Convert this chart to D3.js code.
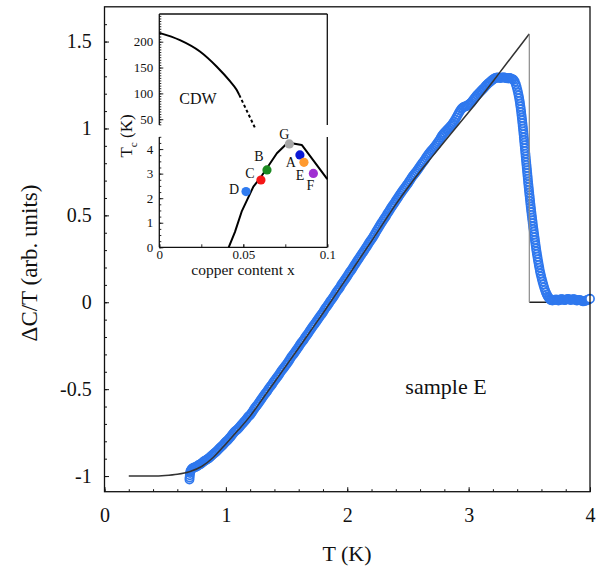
<!DOCTYPE html>
<html><head><meta charset="utf-8">
<script src="https://cdn.jsdelivr.net/npm/d3@7"></script>
<style>
html,body{margin:0;padding:0;background:#fff;}
svg{display:block;}
text{font-family:"Liberation Serif","Times New Roman",serif;fill:#111;}
</style></head><body>
<svg id="chart" width="598" height="568"></svg>
<script>
// ---------------- data ----------------
const xTickValues = [0, 1, 2, 3, 4];
const xTickLabels = ["0", "1", "2", "3", "4"];
const yTickValues = [-1, -0.5, 0, 0.5, 1, 1.5];
const yTickLabels = ["-1", "-0.5", "0", "0.5", "1", "1.5"];

// model (black line) ΔC/T vs T
const modelT = [0.2,0.3,0.4,0.5,0.6,0.7,0.8,0.9,1.0,1.1,1.2,1.3,1.4,1.5,1.6,1.7,1.8,1.9,2.0,2.1,2.2,2.3,2.4,2.5,2.6,2.7,2.8,2.9,3.0,3.1,3.2,3.3,3.4,3.5];
const modelV = [-1.000,-1.000,-1.000,-0.997,-0.990,-0.975,-0.945,-0.890,-0.815,-0.737,-0.655,-0.558,-0.460,-0.362,-0.263,-0.163,-0.063,0.040,0.143,0.248,0.352,0.458,0.563,0.660,0.752,0.838,0.924,1.008,1.093,1.180,1.270,1.362,1.453,1.544];
const modelTc = 3.5;
const modelTail = [3.5, 4.0];

// measured data (blue open circles), sample E
const dataT = [
0.700,0.701,0.703,0.705,0.708,0.712,
0.72,0.73,0.74,0.75,0.76,0.77,0.78,0.79,0.80,0.81,
0.82,0.83,0.84,0.85,0.86,0.87,0.88,0.89,0.90,0.91,
0.92,0.93,0.94,0.95,0.96,0.97,0.98,0.99,1.00,1.01,
1.02,1.03,1.04,1.05,1.06,1.07,1.08,1.09,1.10,1.11,
1.12,1.13,1.14,1.15,1.16,1.17,1.18,1.19,1.20,1.21,
1.22,1.23,1.24,1.25,1.26,1.27,1.28,1.29,1.30,1.31,
1.32,1.33,1.34,1.35,1.36,1.37,1.38,1.39,1.40,1.41,
1.42,1.43,1.44,1.45,1.46,1.47,1.48,1.49,1.50,1.51,
1.52,1.53,1.54,1.55,1.56,1.57,1.58,1.59,1.60,1.61,
1.62,1.63,1.64,1.65,1.66,1.67,1.68,1.69,1.70,1.71,
1.72,1.73,1.74,1.75,1.76,1.77,1.78,1.79,1.80,1.81,
1.82,1.83,1.84,1.85,1.86,1.87,1.88,1.89,1.90,1.91,
1.92,1.93,1.94,1.95,1.96,1.97,1.98,1.99,2.00,2.01,
2.02,2.03,2.04,2.05,2.06,2.07,2.08,2.09,2.10,2.11,
2.12,2.13,2.14,2.15,2.16,2.17,2.18,2.19,2.20,2.21,
2.22,2.23,2.24,2.25,2.26,2.27,2.28,2.29,2.30,2.31,
2.32,2.33,2.34,2.35,2.36,2.37,2.38,2.39,2.40,2.41,
2.42,2.43,2.44,2.45,2.46,2.47,2.48,2.49,2.50,2.51,
2.52,2.53,2.54,2.55,2.56,2.57,2.58,2.59,2.60,2.61,
2.62,2.63,2.64,2.65,2.66,2.67,2.68,2.69,2.70,2.71,
2.72,2.73,2.74,2.75,2.76,2.77,2.78,2.79,2.80,2.81,
2.82,2.83,2.84,2.85,2.86,2.87,2.88,2.89,2.90,2.91,
2.92,2.93,2.94,2.95,2.96,2.97,2.98,2.99,3.00,3.01,
3.02,3.03,3.04,3.05,3.06,3.07,3.08,3.09,3.10,3.11,
3.12,3.13,3.14,3.15,3.16,3.17,3.18,3.19,3.20,3.21,
3.22,3.23,3.24,3.25,3.26,3.27,3.28,3.29,3.30,3.31,
3.32,3.33,3.34,3.35,3.36,3.37,
3.3800,3.3889,3.3958,3.4020,3.4073,3.4121,3.4163,3.4204,3.4236,3.4268,
3.4300,3.4328,3.4355,3.4383,3.4409,3.4433,3.4457,3.4481,3.4504,3.4526,
3.4548,3.4570,3.4592,3.4614,3.4635,3.4657,3.4678,3.4700,3.4722,3.4744,
3.4766,3.4788,3.4810,3.4832,3.4854,3.4876,3.4899,3.4922,3.4946,3.4969,
3.4993,3.5017,3.5042,3.5066,3.5091,3.5117,3.5143,3.5170,3.5197,3.5225,
3.5253,3.5281,3.5309,3.5340,3.5370,3.5400,3.5431,3.5462,3.5492,3.5525,
3.5558,3.5592,3.5628,3.5665,3.5703,3.5743,3.5783,3.5826,3.5871,3.5920,
3.5973,3.6030,3.6089,3.6152,3.6218,3.6291,3.6367,3.6443,3.6514,3.6600,
3.6675,3.6750,
3.68,3.69,3.70,3.71,3.72,3.73,3.74,3.75,3.76,3.77,3.78,3.79,3.80,3.81,3.82,
3.83,3.84,3.85,3.86,3.87,3.88,3.89,3.90,3.91,3.92,3.93,3.94,3.95,3.96,3.97,
3.98,3.99,4.00];
const dataV = [
-1.020,-1.008,-0.995,-0.983,-0.972,-0.966,
-0.958,-0.953,-0.950,-0.948,-0.945,-0.939,-0.935,-0.932,-0.927,-0.920,
-0.915,-0.911,-0.906,-0.902,-0.897,-0.890,-0.884,-0.878,-0.872,-0.866,
-0.860,-0.853,-0.846,-0.839,-0.832,-0.825,-0.818,-0.810,-0.803,-0.797,
-0.789,-0.781,-0.774,-0.764,-0.755,-0.747,-0.740,-0.735,-0.728,-0.720,
-0.712,-0.704,-0.696,-0.688,-0.680,-0.671,-0.662,-0.655,-0.648,-0.638,
-0.628,-0.617,-0.607,-0.599,-0.590,-0.580,-0.570,-0.559,-0.549,-0.540,
-0.530,-0.521,-0.512,-0.501,-0.490,-0.482,-0.473,-0.462,-0.452,-0.443,
-0.433,-0.424,-0.414,-0.403,-0.392,-0.384,-0.376,-0.366,-0.356,-0.346,
-0.336,-0.325,-0.314,-0.305,-0.296,-0.286,-0.276,-0.266,-0.256,-0.245,
-0.235,-0.226,-0.217,-0.206,-0.196,-0.187,-0.177,-0.166,-0.156,-0.145,
-0.135,-0.126,-0.116,-0.107,-0.097,-0.086,-0.076,-0.067,-0.057,-0.046,
-0.035,-0.026,-0.016,-0.005,0.006,0.015,0.025,0.035,0.046,0.057,
0.068,0.077,0.087,0.099,0.110,0.119,0.129,0.139,0.150,0.161,
0.172,0.182,0.192,0.203,0.214,0.225,0.236,0.246,0.256,0.267,
0.278,0.288,0.298,0.309,0.320,0.331,0.342,0.352,0.362,0.373,
0.384,0.396,0.408,0.420,0.432,0.443,0.454,0.465,0.476,0.486,
0.497,0.509,0.520,0.531,0.542,0.552,0.562,0.573,0.584,0.594,
0.604,0.615,0.626,0.636,0.646,0.655,0.664,0.674,0.684,0.695,
0.705,0.716,0.726,0.735,0.744,0.753,0.762,0.772,0.782,0.792,
0.802,0.812,0.822,0.833,0.843,0.853,0.862,0.870,0.878,0.886,
0.895,0.904,0.914,0.924,0.934,0.947,0.958,0.967,0.975,0.983,
0.990,0.997,1.004,1.012,1.020,1.030,1.040,1.052,1.064,1.077,
1.090,1.102,1.112,1.119,1.124,1.126,1.128,1.132,1.136,1.142,
1.148,1.157,1.166,1.175,1.184,1.192,1.200,1.207,1.214,1.221,
1.228,1.236,1.244,1.251,1.258,1.264,1.270,1.276,1.282,1.286,
1.290,1.292,1.294,1.292,1.290,1.292,1.294,1.293,1.292,1.290,
1.288,1.289,1.290,1.287,1.284,1.280,
1.270,1.254,1.238,1.222,1.206,1.190,1.174,1.158,1.142,1.126,
1.110,1.094,1.078,1.062,1.046,1.030,1.014,0.998,0.982,0.966,
0.950,0.934,0.918,0.902,0.886,0.870,0.854,0.838,0.822,0.806,
0.790,0.774,0.758,0.742,0.726,0.710,0.694,0.678,0.662,0.646,
0.630,0.614,0.598,0.582,0.566,0.550,0.534,0.518,0.502,0.486,
0.470,0.454,0.438,0.422,0.406,0.390,0.374,0.358,0.342,0.326,
0.310,0.294,0.278,0.262,0.246,0.230,0.214,0.198,0.182,0.166,
0.150,0.134,0.118,0.102,0.086,0.070,0.056,0.044,0.034,0.026,
0.020,0.015,
0.012,0.010,0.012,0.014,0.016,0.014,0.010,0.012,0.017,0.018,0.015,0.012,0.014,0.018,0.019,
0.016,0.013,0.014,0.018,0.017,0.013,0.010,0.011,0.014,0.012,0.008,0.006,0.006,0.008,0.010,
0.013,0.016,0.020];

// inset: phase diagram
const insetXTicks = [0, 0.05, 0.1];
const insetXLabels = ["0", "0.05", "0.1"];
const insetUpTicks = [50, 100, 150, 200];
const insetUpLabels = ["50", "100", "150", "200"];
const insetLowTicks = [0, 1, 2, 3, 4];
const insetLowLabels = ["0", "1", "2", "3", "4"];
const cdwX = [0, 0.0123, 0.0242, 0.0341, 0.0422, 0.046, 0.0476];
const cdwY = [217, 203, 181, 152, 123, 107, 97];
const cdwDashX = [0.0476, 0.0570];
const cdwDashY = [97, 33];
const scX = [0.0413, 0.045, 0.049, 0.056, 0.0605, 0.064, 0.070, 0.0758, 0.078, 0.0848, 0.1];
const scY = [0, 0.62, 1.45, 2.47, 2.86, 3.22, 3.83, 4.22, 4.25, 4.17, 2.78];
const sampleNames = ["A", "B", "C", "D", "E", "F", "G"];
const sampleX = [0.0837, 0.0641, 0.0605, 0.0516, 0.0861, 0.0917, 0.0774];
const sampleTc = [3.76, 3.15, 2.74, 2.27, 3.46, 3.01, 4.21];
const sampleColors = ["#0a18d6", "#1c8a22", "#f51616", "#2f7bf0", "#ff9a2e", "#a02fd2", "#a8a8a8"];

// ---------------- chart ----------------
const svg = d3.select("#chart");
const blue = "#2f78ee";

const x = d3.scaleLinear().domain([0, 4]).range([104.5, 590]);
const y = d3.scaleLinear().domain([-1.09, 1.70]).range([491.7, 6.8]);

const data = dataT.map((t, i) => ({t, v: dataV[i]}));
const model = modelT.map((t, i) => ({t, v: modelV[i]}));

// zero line after Tc
svg.append("line")
  .attr("x1", x(modelTail[0])).attr("x2", x(modelTail[1]))
  .attr("y1", y(0)).attr("y2", y(0))
  .attr("stroke", "#222").attr("stroke-width", 1.3);

// data circles
svg.append("g").selectAll("circle").data(data).join("circle")
  .attr("cx", d => x(d.t)).attr("cy", d => y(d.v)).attr("r", 4.1)
  .attr("fill", (d, i) => i === data.length - 1 ? "#fff" : "none")
  .attr("stroke", blue).attr("stroke-width", 1.7);

// model curve
svg.append("path").datum(model)
  .attr("d", d3.line().x(d => x(d.t)).y(d => y(d.v)).curve(d3.curveMonotoneX))
  .attr("fill", "none").attr("stroke", "#333").attr("stroke-width", 1.5);
svg.append("line")
  .attr("x1", x(modelTc)).attr("x2", x(modelTc))
  .attr("y1", y(modelV[modelV.length - 1])).attr("y2", y(0))
  .attr("stroke", "#8a8a8a").attr("stroke-width", 1.2);

// axes
const fsTick = 20;
const gx = svg.append("g").attr("transform", `translate(0,${y.range()[0]})`);
gx.call(d3.axisBottom(x).tickValues(d3.range(0, 4.001, 0.2)).tickSizeInner(-2.5).tickSizeOuter(0).tickFormat(""));
gx.call(g => g.select(".domain").remove());
const gx2 = svg.append("g").attr("transform", `translate(0,${y.range()[0]})`);
gx2.call(d3.axisBottom(x).tickValues(xTickValues).tickSizeInner(-4.5).tickSizeOuter(0)
  .tickPadding(30.3 - 0.71 * fsTick).tickFormat((d, i) => xTickLabels[i]));
gx2.call(g => g.select(".domain").remove());
gx2.selectAll("text").attr("font-size", fsTick).attr("font-family", null);

const gy = svg.append("g").attr("transform", `translate(${x.range()[0]},0)`);
gy.call(d3.axisLeft(y).tickValues(d3.range(-1.0, 1.65, 0.1)).tickSizeInner(-2.5).tickSizeOuter(0).tickFormat(""));
gy.call(g => g.select(".domain").remove());
const gy2 = svg.append("g").attr("transform", `translate(${x.range()[0]},0)`);
gy2.call(d3.axisLeft(y).tickValues(yTickValues).tickSizeInner(-4.5).tickSizeOuter(0)
  .tickPadding(12.8).tickFormat((d, i) => yTickLabels[i]));
gy2.call(g => g.select(".domain").remove());
gy2.selectAll("text").attr("font-size", fsTick).attr("font-family", null);
svg.selectAll(".tick line").attr("stroke", "#111").attr("stroke-width", 1);

// frame
svg.append("rect")
  .attr("x", x.range()[0]).attr("y", y.range()[1])
  .attr("width", x.range()[1] - x.range()[0]).attr("height", y.range()[0] - y.range()[1])
  .attr("fill", "none").attr("stroke", "#111").attr("stroke-width", 1.3);

// titles
svg.append("text").attr("x", 347).attr("y", 561).attr("text-anchor", "middle")
  .attr("font-size", 22).text("T (K)");
svg.append("text").attr("transform", "translate(37,263) rotate(-90)").attr("text-anchor", "middle")
  .attr("font-size", 23).text("ΔC/T (arb. units)");
svg.append("text").attr("x", 446).attr("y", 394).attr("text-anchor", "middle")
  .attr("font-size", 22).text("sample E");

// ---------------- inset ----------------
const ix = d3.scaleLinear().domain([0, 0.1]).range([159.3, 327.3]);
const iyLow = d3.scaleLinear().domain([0, 4.5]).range([247.3, 136.8]);
const iyUp = d3.scaleLinear().domain([33, 253.6]).range([128, 14]);
const inset = svg.append("g");
const upTop = 14, upBot = 125, lowTop = 137, lowBot = 247.3;
const L = ix.range()[0], R = ix.range()[1];

// axis lines
[[L, upTop, L, upBot], [L, lowTop, L, lowBot], [R, upTop, R, upBot], [R, lowTop, R, lowBot],
 [L, upTop, R, upTop], [L, lowBot, R, lowBot]].forEach(s => {
  inset.append("line").attr("x1", s[0]).attr("y1", s[1]).attr("x2", s[2]).attr("y2", s[3])
    .attr("stroke", "#111").attr("stroke-width", 1.3);
});

const fsIn = 13;
function insetAxis(gen, tr) {
  const g = inset.append("g").attr("transform", tr).call(gen);
  g.select(".domain").remove();
  g.selectAll("text").attr("font-size", fsIn).attr("font-family", null);
  g.selectAll(".tick line").attr("stroke", "#111").attr("stroke-width", 0.9);
  return g;
}
insetAxis(d3.axisLeft(iyUp).tickValues(d3.range(40, 251, 5)).tickSizeInner(-2).tickSizeOuter(0).tickFormat(""), `translate(${L},0)`);
insetAxis(d3.axisLeft(iyUp).tickValues(insetUpTicks).tickSizeInner(-4).tickSizeOuter(0).tickPadding(6)
  .tickFormat((d, i) => insetUpLabels[i]), `translate(${L},0)`);
insetAxis(d3.axisLeft(iyLow).tickValues(d3.range(0, 4.51, 0.25)).tickSizeInner(-2).tickSizeOuter(0).tickFormat(""), `translate(${L},0)`);
insetAxis(d3.axisLeft(iyLow).tickValues(insetLowTicks).tickSizeInner(-4).tickSizeOuter(0).tickPadding(6)
  .tickFormat((d, i) => insetLowLabels[i]), `translate(${L},0)`);
insetAxis(d3.axisBottom(ix).tickValues(d3.range(0, 0.1001, 0.025)).tickSizeInner(-3).tickSizeOuter(0).tickFormat(""), `translate(0,${lowBot})`);
insetAxis(d3.axisBottom(ix).tickValues(insetXTicks).tickSizeInner(-3).tickSizeOuter(0).tickPadding(2.5)
  .tickFormat((d, i) => insetXLabels[i]), `translate(0,${lowBot})`);

// curves
const cdw = cdwX.map((v, i) => ({x: v, y: cdwY[i]}));
const cdwDash = cdwDashX.map((v, i) => ({x: v, y: cdwDashY[i]}));
const sc = scX.map((v, i) => ({x: v, y: scY[i]}));
inset.append("path").datum(cdw)
  .attr("d", d3.line().x(d => ix(d.x)).y(d => iyUp(d.y)).curve(d3.curveMonotoneX))
  .attr("fill", "none").attr("stroke", "#000").attr("stroke-width", 2);
inset.append("path").datum(cdwDash)
  .attr("d", d3.line().x(d => ix(d.x)).y(d => iyUp(d.y)))
  .attr("fill", "none").attr("stroke", "#000").attr("stroke-width", 2).attr("stroke-dasharray", "3,2.5");
inset.append("path").datum(sc)
  .attr("d", d3.line().x(d => ix(d.x)).y(d => iyLow(d.y)))
  .attr("fill", "none").attr("stroke", "#000").attr("stroke-width", 2).attr("stroke-linejoin", "round");

// sample dots
const labelOff = {A: [-9, 7], B: [-8, -14], C: [-11, -7], D: [-12, -2], E: [-4, 13], F: [-3, 12], G: [-5, -10]};
const samples = sampleNames.map((n, i) => ({n, x: sampleX[i], y: sampleTc[i], c: sampleColors[i]}));
inset.selectAll("circle.s").data(samples).join("circle")
  .attr("cx", d => ix(d.x)).attr("cy", d => iyLow(d.y)).attr("r", 4.6).attr("fill", d => d.c);
inset.selectAll("text.s").data(samples).join("text")
  .attr("x", d => ix(d.x) + labelOff[d.n][0]).attr("y", d => iyLow(d.y) + labelOff[d.n][1])
  .attr("dy", "0.35em").attr("text-anchor", "middle").attr("font-size", 14).text(d => d.n);

inset.append("text").attr("x", 198).attr("y", 104).attr("text-anchor", "middle").attr("font-size", 16).text("CDW");
inset.append("text").attr("x", 243).attr("y", 275).attr("text-anchor", "middle").attr("font-size", 15.5).text("copper content x");
const tc = inset.append("text").attr("transform", "translate(132,136) rotate(-90)").attr("text-anchor", "middle").attr("font-size", 17);
tc.append("tspan").text("T");
tc.append("tspan").attr("dy", 5).attr("font-size", 11).text("c");
tc.append("tspan").attr("dy", -5).text(" (K)");
</script>
</body></html>
